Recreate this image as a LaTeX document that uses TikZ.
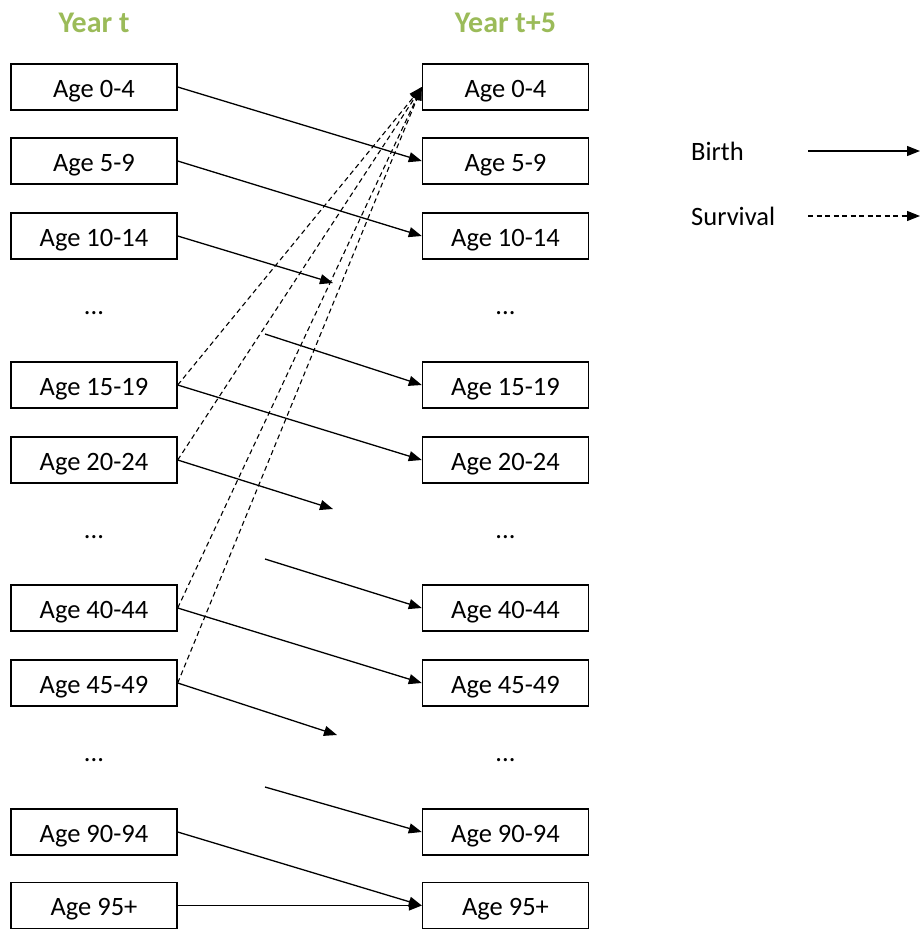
\documentclass[tikz,border=0pt]{standalone}
\usepackage{fontspec}
\setmainfont{Carlito}
\usetikzlibrary{arrows.meta}
\definecolor{titlegreen}{HTML}{9BBB59}
\begin{document}
\begin{tikzpicture}[x=1pt,y=-1pt,
  agebox/.style={draw,line width=1.4pt,minimum width=166pt,minimum height=46pt,inner sep=0pt,text height=20pt,text depth=0pt,font=\fontsize{26.5}{30}\selectfont},
  title/.style={font=\fontsize{30}{34}\selectfont\bfseries,text=titlegreen},
  dots/.style={font=\fontsize{26.5}{30}\selectfont},
  legtext/.style={font=\fontsize{26.5}{30}\selectfont,anchor=west,inner sep=0pt},
  solidarr/.style={line width=1.3pt,-{Triangle[length=13pt,width=10pt]}},
  dasharr/.style={line width=1.1pt,dash pattern=on 5pt off 3.5pt,-{Triangle[length=13pt,width=10pt]}}]
\useasboundingbox (0,0) rectangle (923,929);
\node[title] (tl) at (94,23) {Year t};
\node[title] (tr) at (505.5,23) {Year t+5};
% left boxes
\node[agebox] (l1) at (94,87) {Age 0-4};
\node[agebox] (l2) at (94,161) {Age 5-9};
\node[agebox] (l3) at (94,236) {Age 10-14};
\node[dots] (ld1) at (94,313) {...};
\node[agebox] (l4) at (94,385) {Age 15-19};
\node[agebox] (l5) at (94,460) {Age 20-24};
\node[dots] (ld2) at (94,537) {...};
\node[agebox] (l6) at (94,608) {Age 40-44};
\node[agebox] (l7) at (94,683) {Age 45-49};
\node[dots] (ld3) at (94,760) {...};
\node[agebox] (l8) at (94,832) {Age 90-94};
\node[agebox] (l9) at (94,905.5) {Age 95+};
% right boxes
\node[agebox] (r1) at (505.5,87) {Age 0-4};
\node[agebox] (r2) at (505.5,161) {Age 5-9};
\node[agebox] (r3) at (505.5,236) {Age 10-14};
\node[dots] (rd1) at (505.5,313) {...};
\node[agebox] (r4) at (505.5,385) {Age 15-19};
\node[agebox] (r5) at (505.5,460) {Age 20-24};
\node[dots] (rd2) at (505.5,537) {...};
\node[agebox] (r6) at (505.5,608) {Age 40-44};
\node[agebox] (r7) at (505.5,683) {Age 45-49};
\node[dots] (rd3) at (505.5,760) {...};
\node[agebox] (r8) at (505.5,832) {Age 90-94};
\node[agebox] (r9) at (505.5,905.5) {Age 95+};
% free ends
\coordinate (e1) at (333,283);
\coordinate (s1) at (265,334);
\coordinate (e2) at (333,509);
\coordinate (s2) at (265,559);
\coordinate (e3) at (337,735);
\coordinate (s3) at (265,787);
% survival (solid)
\draw[solidarr] (l1.east) -- (r2.west);
\draw[solidarr] (l2.east) -- (r3.west);
\draw[solidarr] (l3.east) -- (e1);
\draw[solidarr] (s1) -- (r4.west);
\draw[solidarr] (l4.east) -- (r5.west);
\draw[solidarr] (l5.east) -- (e2);
\draw[solidarr] (s2) -- (r6.west);
\draw[solidarr] (l6.east) -- (r7.west);
\draw[solidarr] (l7.east) -- (e3);
\draw[solidarr] (s3) -- (r8.west);
\draw[solidarr] (l8.east) -- (r9.west);
\draw[solidarr] (l9.east) -- (r9.west);
% births (dashed)
\draw[dasharr] (l4.east) -- (r1.west);
\draw[dasharr] (l5.east) -- (r1.west);
\draw[dasharr] (l6.east) -- (r1.west);
\draw[dasharr] (l7.east) -- (r1.west);
% legend
\node[legtext] (lb) at (691,151) {Birth};
\node[legtext] (ls) at (691,216) {Survival};
\coordinate (lb1) at (808,151);
\coordinate (lb2) at (920,151);
\coordinate (ls1) at (808,216);
\coordinate (ls2) at (920,216);
\draw[solidarr] (lb1) -- (lb2);
\draw[dasharr] (ls1) -- (ls2);
\end{tikzpicture}
\end{document}
